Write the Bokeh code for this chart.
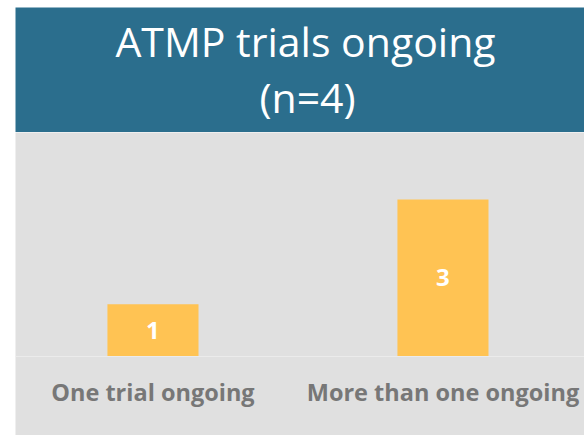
from bokeh.plotting import figure
from bokeh.layouts import column
from bokeh.models import Range1d, FixedTicker
from bokeh.core.properties import value
from bokeh.embed import file_html
from bokeh.resources import INLINE

# ---- data ----
title_lines = ["ATMP trials ongoing", "(n=4)"]
categories = ["One trial ongoing", "More than one ongoing"]
counts = [1, 3]

TEAL = "#2b6e8d"
GRAY_BG = "#e0e0e0"
BAR = "#ffc353"
LABEL = "#777777"
FONT = "Open Sans"

# ---- title band ----
top = figure(width=584, height=132, output_backend="svg", toolbar_location=None,
             x_range=Range1d(0, 569), y_range=Range1d(125, 0),
             min_border_left=15, min_border_right=0, min_border_top=7, min_border_bottom=0)
top.background_fill_color = TEAL
top.border_fill_color = "white"
top.outline_line_color = None
top.axis.visible = False
top.grid.visible = False
top.text(x=[290, 292], y=[33, 89], text=title_lines,
         text_font=value(FONT), text_font_size="41px", text_color="white",
         text_align="center", text_baseline="alphabetic")

# ---- bar chart ----
xs = list(range(len(categories)))
p = figure(width=584, height=303, output_backend="svg", toolbar_location=None,
           x_range=Range1d(-0.474, 1.488), y_range=Range1d(-1.51, 4.28),
           min_border_left=15, min_border_right=0, min_border_top=0, min_border_bottom=0)
p.background_fill_color = GRAY_BG
p.border_fill_color = "white"
p.outline_line_color = None
p.grid.visible = False
p.yaxis.visible = False

p.vbar(x=xs, top=counts, width=0.314, bottom=0, fill_color=BAR, line_color=None)
p.text(x=xs, y=[c / 2 for c in counts], text=[str(c) for c in counts],
       text_font=value(FONT), text_font_style="bold", text_font_size="24px",
       text_color="white", text_align="center", text_baseline="middle")

ax = p.xaxis[0]
ax.fixed_location = 0
ax.ticker = FixedTicker(ticks=xs)
ax.major_label_overrides = {i: c for i, c in zip(xs, categories)}
ax.major_tick_line_color = None
ax.minor_tick_line_color = None
ax.axis_line_color = "#ebebeb"
ax.major_label_text_font = FONT
ax.major_label_text_font_style = "bold"
ax.major_label_text_font_size = "23.5px"
ax.major_label_text_color = LABEL
ax.major_label_standoff = 14

layout = column(top, p, spacing=0)
open("out.html", "w").write(file_html(layout, INLINE))
